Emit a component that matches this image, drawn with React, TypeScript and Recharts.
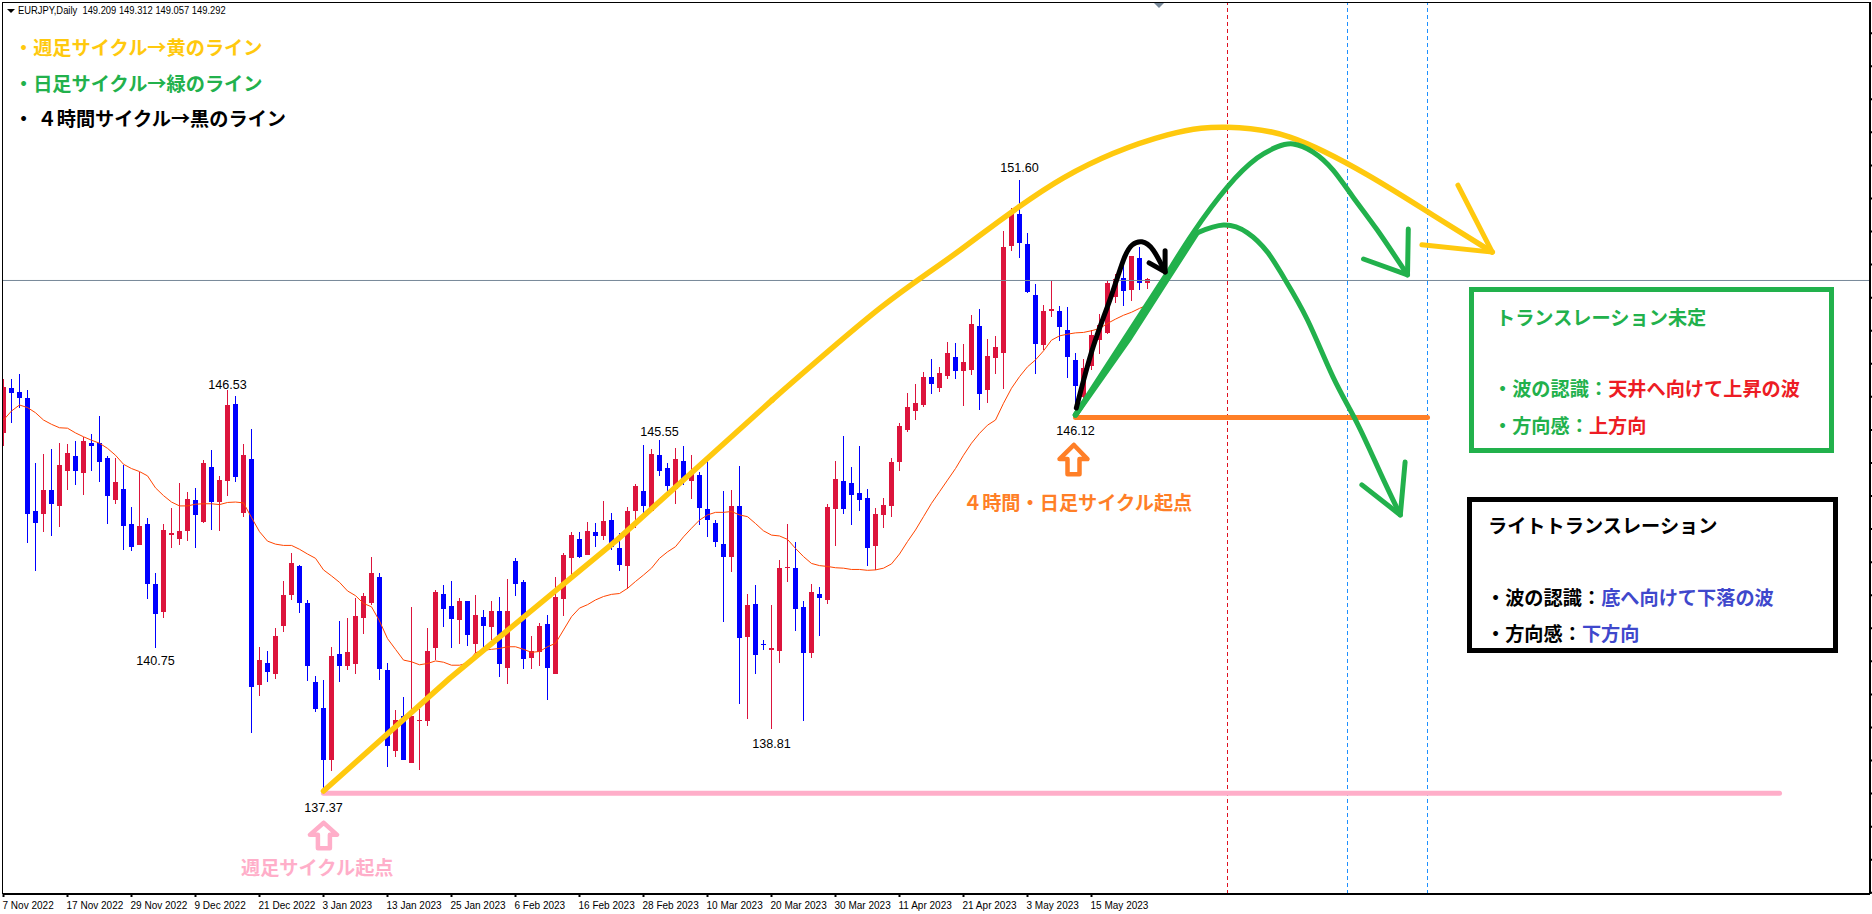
import { ComposedChart, Bar, Line, XAxis, YAxis, ReferenceLine, ReferenceDot } from 'recharts';

// daily EURJPY, prices
const opens = [
  145.71, 146.76, 146.66, 146.52, 143.88, 143.81, 144.38, 144.01, 144.83, 145.17,
  144.78, 145.48, 145.48, 145.13, 144.15, 144.41, 143.60, 143.10, 143.60, 142.20,
  141.55, 143.34, 143.24, 143.43, 144.15, 143.64, 144.92, 144.10, 144.60, 146.38,
  143.85, 145.11, 139.85, 140.36, 140.10, 141.22, 141.94, 142.62, 141.75, 139.90,
  139.31, 138.10, 140.55, 140.29, 140.32, 141.41, 141.75, 142.36, 140.20, 138.31,
  139.11, 138.03, 138.99, 139.01, 140.71, 141.97, 141.68, 141.35, 141.80, 140.79,
  141.43, 141.19, 141.56, 140.24, 142.73, 142.24, 140.47, 140.61, 141.26, 140.10,
  141.84, 142.80, 143.24, 142.87, 143.40, 143.31, 143.68, 143.03, 142.61, 143.89,
  144.36, 143.89, 145.20, 144.89, 144.40, 145.06, 144.59, 144.73, 143.94, 143.61,
  143.12, 142.82, 144.01, 140.96, 141.73, 140.79, 140.65, 140.63, 142.56, 142.57,
  141.66, 140.59, 141.96, 141.82, 143.94, 144.59, 144.54, 144.32, 144.19, 143.08,
  143.80, 144.01, 145.03, 145.78, 146.23, 146.36, 147.01, 146.75, 147.03, 147.48,
  147.15, 147.17, 148.20, 146.71, 147.45, 147.57, 150.06, 150.81, 150.11, 148.92,
  147.76, 148.55, 148.55, 148.11, 147.41, 146.55, 147.27, 147.87, 148.03, 148.88,
  149.32, 149.04, 149.78, 149.21,
];
const highs = [
  146.96, 146.96, 147.08, 146.71, 145.00, 145.23, 145.34, 145.48, 145.45, 145.53,
  145.62, 145.69, 146.11, 145.17, 145.13, 144.97, 143.99, 144.81, 143.74, 142.45,
  143.60, 143.97, 144.55, 144.33, 144.43, 145.08, 145.31, 144.71, 146.71, 146.57,
  145.45, 145.81, 140.73, 140.62, 141.17, 142.25, 142.92, 142.64, 141.83, 140.05,
  139.96, 140.73, 141.33, 141.41, 141.87, 141.98, 142.82, 142.45, 140.36, 139.26,
  139.57, 141.66, 139.29, 141.17, 142.06, 142.17, 142.26, 141.87, 141.80, 141.94,
  141.59, 141.80, 141.89, 142.31, 142.80, 142.29, 140.98, 141.28, 141.47, 142.35,
  142.91, 143.40, 143.40, 143.64, 143.61, 144.13, 143.85, 143.37, 143.99, 144.52,
  145.43, 145.34, 145.55, 145.01, 145.36, 145.41, 145.20, 144.80, 145.06, 143.68,
  144.36, 144.38, 144.94, 141.96, 142.17, 140.89, 141.70, 142.75, 143.59, 143.17,
  141.80, 142.19, 142.12, 144.05, 145.06, 145.64, 144.92, 145.41, 144.40, 143.96,
  144.19, 145.13, 145.94, 146.63, 146.85, 147.13, 147.43, 147.25, 147.83, 147.80,
  147.77, 148.45, 148.59, 147.89, 147.96, 150.41, 150.94, 151.60, 150.36, 149.18,
  148.69, 149.25, 148.66, 148.64, 147.57, 147.43, 148.11, 148.48, 149.27, 149.42,
  149.77, 149.83, 150.05, 149.31,
];
const lows = [
  145.40, 145.95, 146.28, 143.15, 142.50, 143.41, 143.30, 143.51, 144.38, 144.50,
  144.27, 144.83, 144.57, 143.60, 144.06, 142.99, 142.96, 143.09, 141.85, 140.71,
  141.41, 143.04, 143.10, 143.20, 143.04, 143.62, 143.46, 143.43, 144.25, 144.57,
  143.76, 138.73, 139.59, 139.90, 139.99, 141.08, 141.83, 141.52, 139.94, 139.20,
  137.37, 137.83, 139.90, 140.18, 140.10, 141.03, 141.71, 139.96, 137.94, 138.17,
  138.10, 138.03, 137.85, 138.89, 140.41, 141.20, 140.71, 140.79, 140.75, 140.58,
  140.69, 140.89, 140.03, 139.86, 141.91, 140.21, 140.21, 140.28, 139.49, 140.10,
  141.45, 142.29, 142.80, 142.87, 143.06, 143.22, 142.98, 142.49, 142.08, 143.50,
  143.82, 143.89, 144.71, 144.24, 144.05, 144.50, 144.17, 143.57, 143.29, 143.05,
  141.31, 142.47, 139.40, 139.05, 140.10, 140.65, 138.81, 140.35, 142.24, 141.10,
  139.00, 140.47, 140.98, 141.73, 143.08, 143.82, 143.57, 143.89, 142.61, 142.52,
  143.50, 143.75, 144.82, 145.74, 146.01, 146.32, 146.61, 146.67, 146.96, 146.96,
  146.33, 147.06, 146.24, 146.41, 147.08, 146.73, 149.95, 149.78, 148.97, 147.08,
  147.64, 148.41, 147.85, 146.99, 146.12, 146.47, 147.17, 147.55, 148.01, 148.73,
  148.66, 148.78, 149.04, 149.06,
];
const closes = [
  146.79, 146.65, 146.52, 143.81, 143.62, 144.38, 144.06, 144.97, 145.25, 144.83,
  145.53, 145.41, 145.03, 144.25, 144.57, 143.55, 143.06, 143.55, 142.20, 141.50,
  143.46, 143.37, 143.43, 144.18, 143.80, 145.01, 144.10, 144.61, 146.37, 144.69,
  145.20, 139.80, 140.41, 140.15, 140.97, 141.94, 142.67, 141.75, 140.29, 139.29,
  138.10, 140.52, 140.29, 140.60, 141.45, 141.92, 142.45, 140.22, 138.41, 139.03,
  138.10, 139.11, 139.03, 140.62, 142.01, 141.61, 141.38, 141.80, 141.00, 141.47,
  141.22, 141.56, 140.33, 141.56, 142.19, 140.45, 140.63, 141.21, 140.24, 141.89,
  142.87, 143.33, 142.82, 143.43, 143.31, 143.66, 143.05, 142.64, 143.89, 144.48,
  144.00, 145.22, 144.82, 144.47, 145.10, 144.59, 144.78, 143.96, 143.68, 143.17,
  142.82, 144.01, 140.93, 141.70, 140.54, 140.77, 140.70, 142.57, 142.59, 141.61,
  140.59, 142.00, 141.87, 143.99, 144.64, 143.94, 144.26, 144.15, 143.03, 143.82,
  144.03, 145.03, 145.87, 146.32, 146.40, 147.01, 146.85, 147.10, 147.57, 147.15,
  147.36, 148.24, 146.61, 147.50, 147.71, 150.04, 150.81, 150.13, 148.99, 147.78,
  148.55, 148.59, 148.18, 147.48, 146.80, 147.22, 147.99, 148.22, 149.21, 149.29,
  149.01, 149.83, 149.20, 149.29,
];
const ma = [
  146.01, 146.22, 146.36, 146.30, 146.18, 146.01, 145.91, 145.83, 145.82, 145.71,
  145.62, 145.54, 145.47, 145.35, 145.19, 144.98, 144.88, 144.81, 144.71, 144.43,
  144.25, 144.10, 144.01, 144.01, 144.05, 144.06, 144.06, 144.04, 144.09, 144.10,
  144.08, 143.74, 143.41, 143.19, 143.12, 143.09, 143.09, 143.00, 142.89, 142.79,
  142.52, 142.38, 142.23, 142.03, 141.92, 141.74, 141.66, 141.33, 140.92, 140.67,
  140.42, 140.38, 140.31, 140.34, 140.40, 140.37, 140.30, 140.30, 140.35, 140.59,
  140.65, 140.67, 140.69, 140.73, 140.73, 140.67, 140.60, 140.62, 140.73, 140.81,
  141.12, 141.43, 141.63, 141.71, 141.82, 141.90, 141.95, 141.97, 142.09, 142.25,
  142.40, 142.56, 142.79, 142.94, 143.06, 143.29, 143.49, 143.68, 143.80, 143.86,
  143.86, 143.88, 143.80, 143.76, 143.60, 143.43, 143.33, 143.31, 143.23, 143.02,
  142.83, 142.67, 142.62, 142.60, 142.57, 142.56, 142.53, 142.53, 142.51, 142.52,
  142.56, 142.66, 142.89, 143.18, 143.45, 143.76, 144.07, 144.34, 144.61, 144.88,
  145.19, 145.47, 145.70, 145.89, 146.01, 146.40, 146.75, 147.02, 147.25, 147.41,
  147.62, 147.87, 147.97, 148.01, 148.04, 148.05, 148.09, 148.14, 148.26, 148.36,
  148.45, 148.52, 148.61, 148.69,
];

const tickBars = [0, 8, 16, 24, 32, 40, 48, 56, 64, 72, 80, 88, 96, 104, 112, 120, 128, 136];
const tickLabels = [
  '7 Nov 2022', '17 Nov 2022', '29 Nov 2022', '9 Dec 2022', '21 Dec 2022', '3 Jan 2023',
  '13 Jan 2023', '25 Jan 2023', '6 Feb 2023', '16 Feb 2023', '28 Feb 2023', '10 Mar 2023',
  '20 Mar 2023', '30 Mar 2023', '11 Apr 2023', '21 Apr 2023', '3 May 2023', '15 May 2023',
];
const priceTicks = [
  155.02, 154.25, 153.48, 152.71, 151.94, 151.17, 150.4, 149.63, 148.86, 148.09, 147.32, 146.55, 145.78,
  145.01, 144.24, 143.47, 142.7, 141.93, 141.16, 140.39, 139.62, 138.85, 138.08, 137.31, 136.54, 135.77, 135.0,
];

// swing labels: bar, text, above the high or below the low
const swingBars = [28, 19, 40, 82, 96, 127, 134];
const swingTexts = ['146.53', '140.75', '137.37', '145.55', '138.81', '151.60', '146.12'];
const swingAbove = [true, false, false, true, false, true, false];
const swingDy = [-5, 13, 17, -8, 15, -12, 16];

// drawn cycle lines, [bar, price]
const yellowRise = [[40, 137.37], [55.8, 140.0], [76.7, 143.22], [96.1, 146.48]];
const yellowArc = [
  [96.1, 146.48], [109.6, 148.62], [119.6, 149.97], [132.5, 151.65], [145.5, 152.65],
  [153, 152.83], [160.8, 152.6], [170.5, 151.72], [178.7, 150.78], [186.1, 149.92],
];
const yellowHead = [[181.8, 151.48], [186.1, 149.92], [177.3, 150.09]];
const greenRise = [[134, 146.13], [145.5, 149.43]];
const greenRiseInner = [[134, 146.13], [140.8, 147.93], [145.5, 149.3], [149.2, 150.37]];
const greenUpper = [
  [145.5, 149.43], [148.7, 150.37], [153, 151.44], [156.7, 152.11], [159.2, 152.37],
  [161.2, 152.44], [163.7, 152.25], [166.2, 151.83], [168.7, 151.2], [171.7, 150.44], [175.5, 149.39],
];
const greenUpperHead = [[175.6, 150.46], [175.5, 149.39], [170, 149.76]];
const greenLower = [
  [149.2, 150.37], [152.5, 150.55], [155.5, 150.37], [158, 149.92], [160, 149.34], [163, 148.34],
  [166.2, 147.01], [169.2, 145.94], [172.1, 144.78], [174.6, 143.8],
];
const greenLowerHead = [[175.2, 145.03], [174.6, 143.8], [169.8, 144.5]];
const blackCurve = [
  [134.1, 146.29], [136.2, 147.71], [138.3, 148.81], [140, 149.74], [141.1, 150.09], [142.3, 150.16],
  [143.7, 149.97], [145.2, 149.46],
];
const blackHead = [[145.2, 149.95], [145.2, 149.46], [143.2, 149.67]];
const pinkLevel = [[40, 137.32], [222, 137.32]];
const orangeLevel = [[134, 146.07], [178, 146.07]];
const pinkArrow = [
  [40.03, 136.63], [41.7, 136.35], [40.8, 136.35], [40.8, 136.04], [39.3, 136.04], [39.3, 136.35], [38.3, 136.35], [40.03, 136.63],
];
const orangeArrow = [
  [133.8, 145.43], [135.5, 145.1], [134.5, 145.1], [134.5, 144.75], [133.0, 144.75], [133.0, 145.1], [132.0, 145.1], [133.8, 145.43],
];

const currentPrice = 149.26;
const cycleBar = 153;
const projectionBars = [168, 178];

const RED = '#DC143C';
const BLUE = '#0000FF';
const YELLOW = '#FFC90E';
const GREEN = '#22B14C';
const ORANGE = '#FF7F27';
const PINK = '#FFAEC9';
const TEXT_RED = '#ED1C24';
const TEXT_BLUE = '#3F48CC';
const JP_FONT = '"Noto Sans CJK JP", sans-serif';
const AXIS_FONT = '"Liberation Sans", sans-serif';
const BODY_WIDTH = 5;

const candles = opens.map((open, i) => ({
  x: i,
  open,
  high: highs[i],
  low: lows[i],
  close: closes[i],
  ma: ma[i],
}));

const toPoints = (pts: number[][]) => pts.map(([x, y]) => ({ x, y }));

function Candle(props: any) {
  const { x, y, width, height, payload } = props;
  const { open, high, low, close } = payload;
  const perPrice = height / (high - low);
  const top = y + (high - Math.max(open, close)) * perPrice;
  const bodyH = Math.max(Math.abs(open - close) * perPrice, 1);
  const color = close >= open ? RED : BLUE;
  const cx = x + width / 2;
  return (
    <g shapeRendering="crispEdges">
      <rect x={cx - 0.5} y={y} width={1} height={height} fill={color} />
      <rect x={cx - BODY_WIDTH / 2} y={top} width={BODY_WIDTH} height={bodyH} fill={color} />
    </g>
  );
}

function DateTick({ x, y, payload }: any) {
  const idx = tickBars.indexOf(payload.value);
  return (
    <text
      transform={`translate(${x - 1},${y + 10}) scale(0.85,1)`}
      fontSize={11.8}
      fontFamily={AXIS_FONT}
      fill="#000"
      textAnchor="start"
    >
      {tickLabels[idx]}
    </text>
  );
}

function overlay(name: string, points: number[][], color: string, width: number, curve: 'linear' | 'natural' = 'linear') {
  return (
    <Line
      key={name}
      data={toPoints(points)}
      dataKey="y"
      type={curve}
      stroke={color}
      strokeWidth={width}
      strokeLinecap="round"
      strokeLinejoin="round"
      dot={false}
      activeDot={false}
      isAnimationActive={false}
      legendType="none"
    />
  );
}

const notes = [
  { left: 14, y: 47, runs: [['・週足サイクル→黄のライン', YELLOW]] },
  { left: 14, y: 83, runs: [['・日足サイクル→緑のライン', GREEN]] },
  { left: 14, y: 118, runs: [['・ ４時間サイクル→黒のライン', '#000']] },
  { left: 241, y: 867, runs: [['週足サイクル起点', PINK]] },
  { left: 963, y: 502, runs: [['４時間・日足サイクル起点', ORANGE]] },
  { left: 1496, y: 317, runs: [['トランスレーション未定', GREEN]] },
  { left: 1493, y: 388, runs: [['・波の認識：', GREEN], ['天井へ向けて上昇の波', TEXT_RED]] },
  { left: 1493, y: 425, runs: [['・方向感：', GREEN], ['上方向', TEXT_RED]] },
  { left: 1488, y: 525, runs: [['ライトトランスレーション', '#000']] },
  { left: 1486, y: 597, runs: [['・波の認識：', '#000'], ['底へ向けて下落の波', TEXT_BLUE]] },
  { left: 1486, y: 633, runs: [['・方向感：', '#000'], ['下方向', TEXT_BLUE]] },
];

export default function App() {
  return (
    <div style={{ position: 'fixed', left: 0, top: 0, width: 1872, height: 914, background: '#fff', overflow: 'hidden' }}>
      <ComposedChart
        width={1872}
        height={914}
        data={candles}
        margin={{ top: 3, right: 0, bottom: 0, left: 3 }}
      >
        <XAxis
          dataKey="x"
          type="number"
          domain={[-0.0625, 233.3125]}
          allowDataOverflow
          ticks={tickBars}
          interval={0}
          height={20}
          tickSize={3}
          tick={<DateTick />}
          stroke="#000"
          strokeWidth={2}
        />
        <YAxis
          orientation="right"
          type="number"
          domain={[134.972, 155.722]}
          allowDataOverflow
          ticks={priceTicks}
          interval={0}
          width={2}
          tickSize={2}
          tick={() => <g />}
          stroke="#000"
          strokeWidth={2}
        />
        <ReferenceLine y={currentPrice} stroke="#778899" strokeWidth={1} />
        <ReferenceLine x={cycleBar} stroke="#E0101E" strokeWidth={1} strokeDasharray="4 3" />
        {projectionBars.map((b) => (
          <ReferenceLine key={b} x={b} stroke="#1E90FF" strokeWidth={1} strokeDasharray="4 3" />
        ))}
        <Bar dataKey={(d: any) => [d.low, d.high]} barSize={5} shape={<Candle />} isAnimationActive={false} />
        <Line dataKey="ma" stroke="#FF4500" strokeWidth={1} dot={false} activeDot={false} isAnimationActive={false} />
        {overlay('pink', pinkLevel, PINK, 5)}
        {overlay('orange', orangeLevel, ORANGE, 5)}
        {overlay('yellowRise', yellowRise, YELLOW, 5.5)}
        {overlay('yellowArc', yellowArc, YELLOW, 5.5, 'natural')}
        {overlay('yellowHead', yellowHead, YELLOW, 5)}
        {overlay('greenRiseInner', greenRiseInner, GREEN, 5.5)}
        {overlay('greenRise', greenRise, GREEN, 5.5)}
        {overlay('greenLower', greenLower, GREEN, 5, 'natural')}
        {overlay('greenLowerHead', greenLowerHead, GREEN, 5)}
        {overlay('greenUpper', greenUpper, GREEN, 5, 'natural')}
        {overlay('greenUpperHead', greenUpperHead, GREEN, 5)}
        {overlay('black', blackCurve, '#000', 5, 'natural')}
        {overlay('blackHead', blackHead, '#000', 5)}
        {overlay('pinkArrow', pinkArrow, PINK, 4.5)}
        {overlay('orangeArrow', orangeArrow, ORANGE, 4.5)}
        {swingBars.map((bar, i) => (
          <ReferenceDot
            key={bar}
            x={bar}
            y={swingAbove[i] ? highs[bar] : lows[bar]}
            ifOverflow="visible"
            shape={(p: any) => (
              <text
                x={p.cx}
                y={p.cy + swingDy[i]}
                textAnchor="middle"
                dominantBaseline="central"
                fontSize={12.6}
                fontFamily={AXIS_FONT}
                fill="#000"
              >
                {swingTexts[i]}
              </text>
            )}
          />
        ))}
      </ComposedChart>

      {/* chart frame and the terminal's small markers */}
      <div style={{ position: 'absolute', left: 2, top: 2, width: 1868, height: 891, borderLeft: '1px solid #000', borderTop: '1px solid #000' }} />
      <div style={{ position: 'absolute', left: 7, top: 9, width: 0, height: 0, borderLeft: '4px solid transparent', borderRight: '4px solid transparent', borderTop: '4px solid #000' }} />
      <div style={{ position: 'absolute', left: 1154, top: 3, width: 0, height: 0, borderLeft: '5px solid transparent', borderRight: '5px solid transparent', borderTop: '5px solid #778899' }} />
      <div style={{ position: 'absolute', left: 18, top: 3, fontFamily: AXIS_FONT, fontSize: 11.5, lineHeight: '14px', whiteSpace: 'pre', color: '#000', transform: 'scaleX(0.815)', transformOrigin: 'left center' }}>
        EURJPY,Daily  149.209 149.312 149.057 149.292
      </div>

      {/* text boxes */}
      <div style={{ position: 'absolute', left: 1469, top: 287, width: 365, height: 166, boxSizing: 'border-box', border: `5px solid ${GREEN}` }} />
      <div style={{ position: 'absolute', left: 1467, top: 497, width: 371, height: 156, boxSizing: 'border-box', border: '5px solid #000' }} />
      {notes.map((n, i) => (
        <div
          key={i}
          style={{
            position: 'absolute',
            left: n.left,
            top: n.y,
            transform: 'translateY(-50%)',
            fontFamily: JP_FONT,
            fontWeight: 700,
            fontSize: 19.2,
            lineHeight: '24px',
            whiteSpace: 'pre',
          }}
        >
          {n.runs.map(([t, c], j) => (
            <span key={j} style={{ color: c }}>{t}</span>
          ))}
        </div>
      ))}
    </div>
  );
}
